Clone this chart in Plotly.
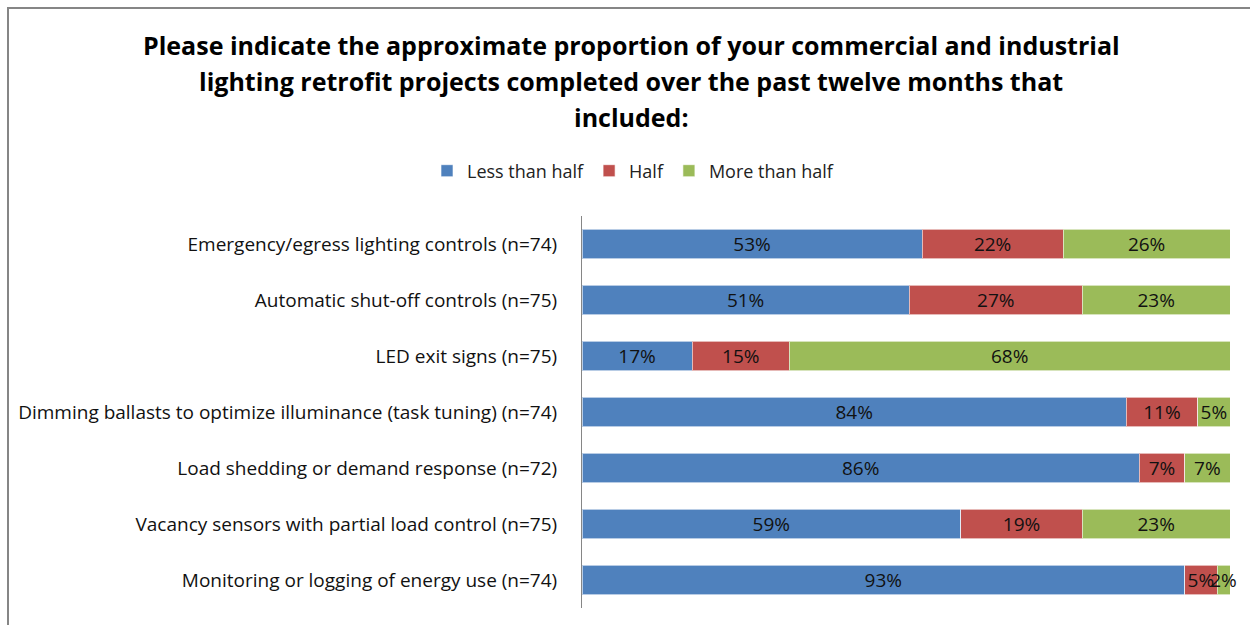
import plotly.graph_objects as go

categories = [
    "Emergency/egress lighting controls (n=74)",
    "Automatic shut-off controls (n=75)",
    "LED exit signs (n=75)",
    "Dimming ballasts to optimize illuminance (task tuning) (n=74)",
    "Load shedding or demand response (n=72)",
    "Vacancy sensors with partial load control (n=75)",
    "Monitoring or logging of energy use (n=74)",
]
less_than_half = [53, 51, 17, 84, 86, 59, 93]
half = [22, 27, 15, 11, 7, 19, 5]
more_than_half = [26, 23, 68, 5, 7, 23, 2]

series = [
    ("Less than half", less_than_half, "#4F81BD"),
    ("Half", half, "#C0504D"),
    ("More than half", more_than_half, "#9BBB59"),
]

FONT = "'Open Sans', 'Noto Sans', sans-serif"

fig = go.Figure()
for name, vals, color in series:
    fig.add_trace(go.Bar(
        name=name,
        y=categories,
        x=vals,
        orientation="h",
        marker=dict(color=color, line=dict(color="rgba(255,255,255,0.6)", width=1)),
        text=[f"{v}%" for v in vals],
        textposition="inside",
        insidetextanchor="middle",
        textangle=0,
        constraintext="none",
        cliponaxis=False,
        textfont=dict(family=FONT, size=19, color="#111111"),
        hoverinfo="skip",
    ))

W, H = 1250, 625
L, R, T, B = 582, 20, 216, 17
pw, ph = W - L - R, H - T - B

def px_x(x):
    return (x - L) / pw

def px_y(y):
    return (H - B - y) / ph

title_lines = [
    "Please indicate the approximate proportion of your commercial and industrial",
    "lighting retrofit projects completed over the past twelve months that",
    "included:",
]
title_y = [45, 81, 117]
annotations = [
    dict(text=f"<b>{t}</b>", x=px_x(631), y=px_y(yy), xref="paper", yref="paper",
         xanchor="center", yanchor="middle", showarrow=False,
         font=dict(family=FONT, size=25, color="#000000"))
    for t, yy in zip(title_lines, title_y)
]

fig.update_layout(
    width=W, height=H,
    margin=dict(l=L, r=R, t=T, b=B, autoexpand=False),
    barmode="stack",
    barnorm="percent",
    bargap=0.48,
    plot_bgcolor="white",
    paper_bgcolor="white",
    font=dict(family=FONT, size=18, color="#000000"),
    showlegend=True,
    legend=dict(orientation="h", x=px_x(633), y=px_y(171), xanchor="center", yanchor="middle",
                font=dict(family=FONT, size=18, color="#222222"), traceorder="normal",
                itemwidth=30),
    annotations=annotations,
    shapes=[dict(type="rect", xref="paper", yref="paper",
                 x0=px_x(8), x1=px_x(1270), y0=px_y(8), y1=px_y(650),
                 line=dict(color="#868686", width=2), fillcolor="rgba(0,0,0,0)", layer="below")],
    xaxis=dict(visible=False, range=[0, 100], fixedrange=True),
    yaxis=dict(autorange="reversed", showline=True, linecolor="#868686", linewidth=1,
               ticks="", ticklabelstandoff=20, showgrid=False,
               tickfont=dict(family=FONT, size=19, color="#111111")),
)

fig.write_html("out.html")
